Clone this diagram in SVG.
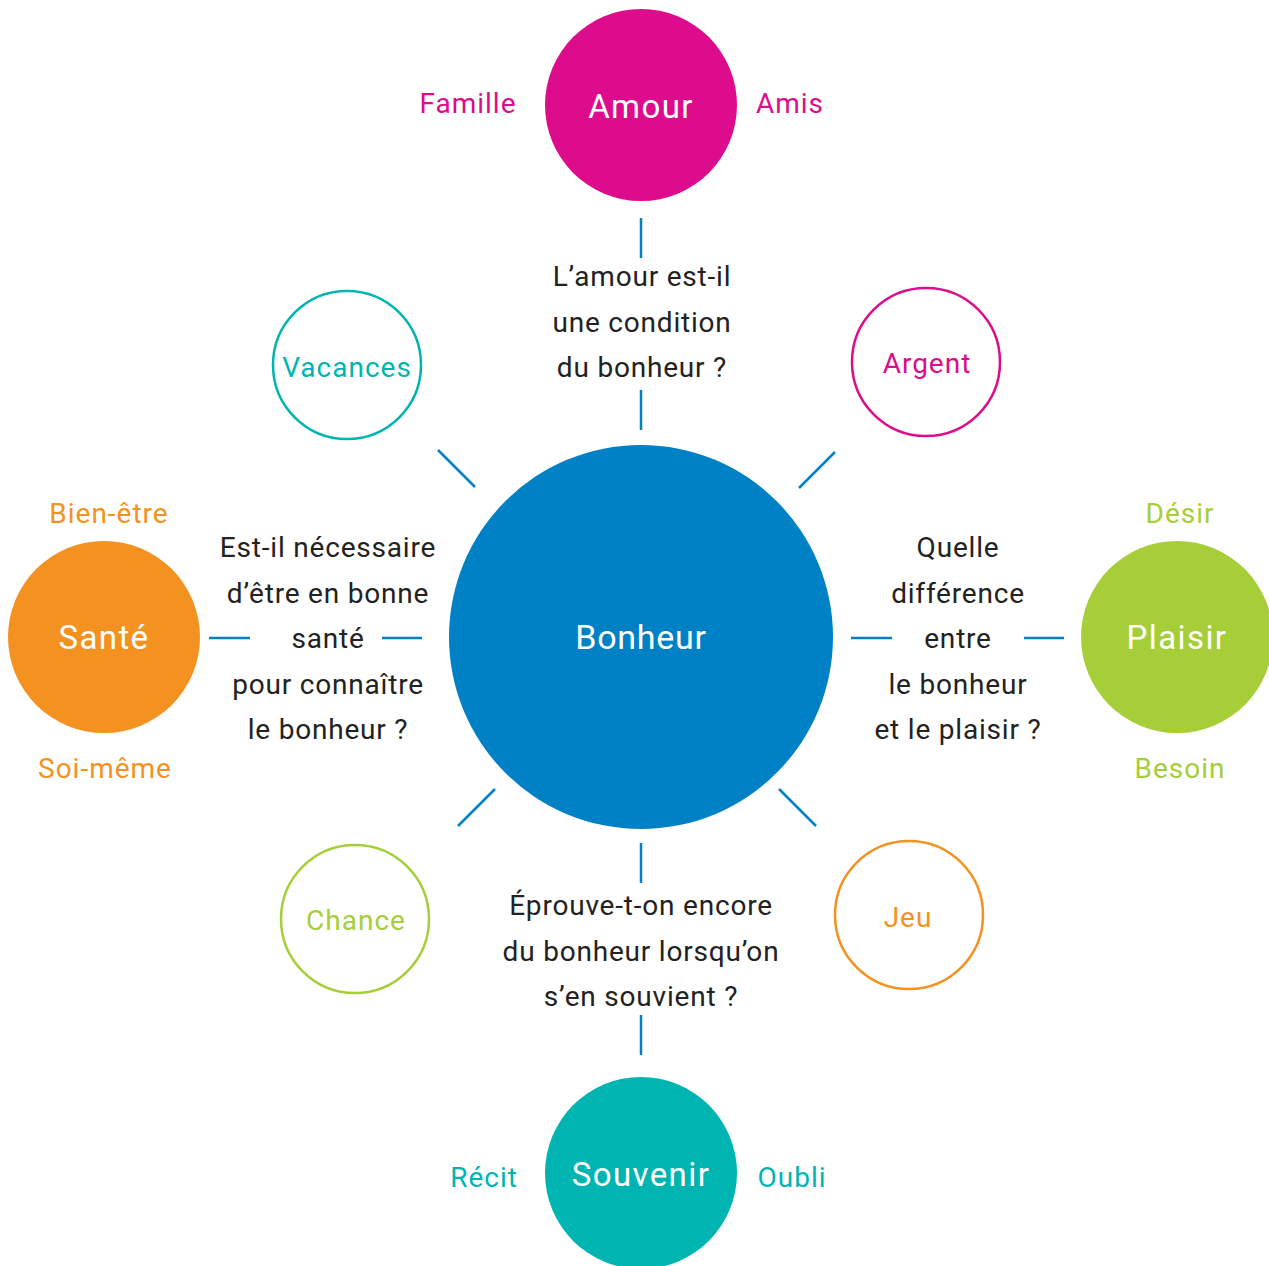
<svg xmlns="http://www.w3.org/2000/svg" width="1269" height="1266" viewBox="0 0 1269 1266">
<style>
  text { font-family: Roboto, "Liberation Sans", sans-serif; text-anchor: middle; }
  .big { font-size: 33px; fill: #fff; letter-spacing: 1.4px; }
  .hub { font-size: 34px; fill: #fff; letter-spacing: 0.7px; }
  .tag { font-size: 28px; letter-spacing: 1px; }
  .q { font-size: 28px; fill: #222; letter-spacing: 0.8px; }
  .ring { fill: #fff; stroke-width: 2.5; }
  .link { stroke: #0081C6; stroke-width: 2.5; fill: none; }
  .pink { fill: #DC0C8C; }
  .orange { fill: #F39220; }
  .green { fill: #A6CE39; }
  .teal { fill: #00B5B1; }
</style>

<!-- connector strokes around the hub -->
<g id="connectors">
  <line class="link" x1="641" y1="218" x2="641" y2="258"/>
  <line class="link" x1="641" y1="390" x2="641" y2="430"/>
  <line class="link" x1="641" y1="843" x2="641" y2="883"/>
  <line class="link" x1="641" y1="1015" x2="641" y2="1055"/>
  <line class="link" x1="209" y1="638" x2="250" y2="638"/>
  <line class="link" x1="382" y1="638" x2="422" y2="638"/>
  <line class="link" x1="851" y1="638" x2="892" y2="638"/>
  <line class="link" x1="1024" y1="638" x2="1064" y2="638"/>
  <line class="link" x1="438" y1="450" x2="475" y2="487"/>
  <line class="link" x1="835" y1="452" x2="799" y2="488"/>
  <line class="link" x1="495" y1="789" x2="458" y2="826"/>
  <line class="link" x1="779" y1="789" x2="816" y2="826"/>
</g>

<g id="bonheur">
  <circle cx="641" cy="637" r="192" fill="#0081C6"/>
  <text class="hub" x="641" y="649">Bonheur</text>
</g>

<g id="amour">
  <circle cx="641" cy="105" r="96" class="pink"/>
  <text class="big" x="641" y="118">Amour</text>
  <text class="tag pink" x="468" y="113">Famille</text>
  <text class="tag pink" x="790" y="113">Amis</text>
</g>

<g id="q-amour">
  <text class="q" x="642" y="286">L’amour est-il</text>
  <text class="q" x="642" y="332">une condition</text>
  <text class="q" x="642" y="377">du bonheur ?</text>
</g>

<g id="sante">
  <circle cx="104" cy="637" r="96" class="orange"/>
  <text class="big" x="104" y="649">Santé</text>
  <text class="tag orange" x="109" y="523">Bien-être</text>
  <text class="tag orange" x="105" y="778">Soi-même</text>
</g>

<g id="q-sante">
  <text class="q" x="328" y="557">Est-il nécessaire</text>
  <text class="q" x="328" y="603">d’être en bonne</text>
  <text class="q" x="328" y="648">santé</text>
  <text class="q" x="328" y="694">pour connaître</text>
  <text class="q" x="328" y="739">le bonheur ?</text>
</g>

<g id="plaisir">
  <circle cx="1177" cy="637" r="96" class="green"/>
  <text class="big" x="1177" y="649">Plaisir</text>
  <text class="tag green" x="1180" y="523">Désir</text>
  <text class="tag green" x="1180" y="778">Besoin</text>
</g>

<g id="q-plaisir">
  <text class="q" x="958" y="557">Quelle</text>
  <text class="q" x="958" y="603">différence</text>
  <text class="q" x="958" y="648">entre</text>
  <text class="q" x="958" y="694">le bonheur</text>
  <text class="q" x="958" y="739">et le plaisir ?</text>
</g>

<g id="souvenir">
  <circle cx="641" cy="1173" r="96" class="teal"/>
  <text class="big" x="641" y="1186">Souvenir</text>
  <text class="tag teal" x="484" y="1187">Récit</text>
  <text class="tag teal" x="792" y="1187">Oubli</text>
</g>

<g id="q-souvenir">
  <text class="q" x="641" y="915">Éprouve-t-on encore</text>
  <text class="q" x="641" y="961">du bonheur lorsqu’on</text>
  <text class="q" x="641" y="1006">s’en souvient ?</text>
</g>

<g id="vacances">
  <circle cx="347" cy="365" r="74" class="ring" stroke="#00B5B1"/>
  <text class="tag teal" x="347" y="377">Vacances</text>
</g>

<g id="argent">
  <circle cx="926" cy="362" r="74" class="ring" stroke="#DC0C8C"/>
  <text class="tag pink" x="927" y="373">Argent</text>
</g>

<g id="chance">
  <circle cx="355" cy="919" r="74" class="ring" stroke="#A6CE39"/>
  <text class="tag green" x="356" y="930">Chance</text>
</g>

<g id="jeu">
  <circle cx="909" cy="915" r="74" class="ring" stroke="#F39220"/>
  <text class="tag orange" x="908" y="927">Jeu</text>
</g>
</svg>
